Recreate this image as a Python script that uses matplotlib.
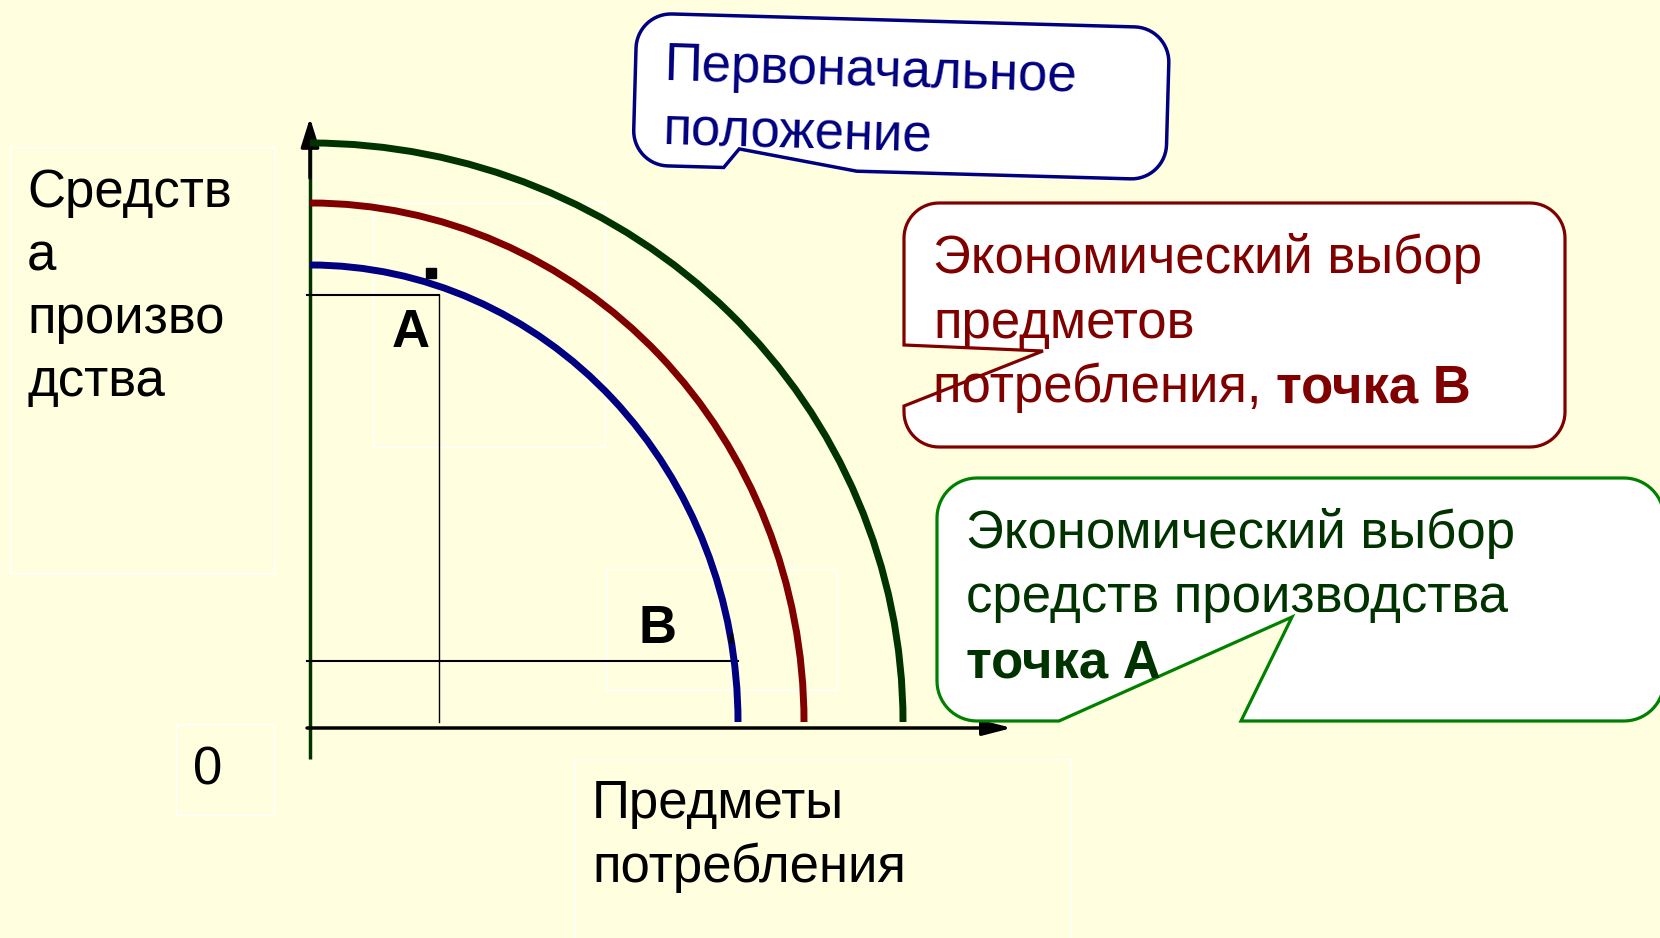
import numpy as np
import matplotlib
matplotlib.use("Agg")
import matplotlib.pyplot as plt
from matplotlib.patches import Arc, PathPatch, Rectangle
from matplotlib.path import Path
from matplotlib.transforms import Affine2D

# ---------------- data (diagram units) ----------------
curve_colors = ["#000080", "#800000", "#003300"]      # current, shifted, initial frontier
ppf_x_intercept = [42.8, 49.4, 59.3]
ppf_y_intercept = [45.7, 51.9, 57.9]
point_A = (12.9, 42.7)
point_B = (42.8, 6.1)
mark_A = (12.1, 44.9)
mark_B = (42.1, 8.4)

y_label_lines = ["Средств", "а", "произво", "дства"]
x_label_lines = ["Предметы", "потребления"]
origin_label = "0"
label_A = "А"
label_B = "В"
callout1_lines = ["Первоначальное", "положение"]
callout2_lines = ["Экономический выбор", "предметов", "потребления, "]
callout2_bold = "точка В"
callout3_lines = ["Экономический выбор", "средств производства"]
callout3_bold = "точка А"

# ---------------- figure ----------------
W, H = 1660, 938
BG = "#FFFFE0"
FONT = "Liberation Sans"
FS = 38

fig = plt.figure(figsize=(W / 100, H / 100), dpi=100, facecolor=BG)
ax = fig.add_axes([0, 0, 1, 1])
ax.set_facecolor(BG)
ax.set_xlim(-31.0, 135.0)
ax.set_ylim(-21.6, 72.2)
ax.axis("off")

# pixel (y down) -> data transform for layout elements
PX = Affine2D().scale(0.1, -0.1).translate(-31.0, 72.2) + ax.transData

# faint white text-box outlines
for (x0, y0, x1, y1) in [(10, 147, 275, 573), (373, 203, 605, 447), (606, 569, 837, 690),
                         (176, 724, 274, 815), (574, 759, 1070, 945)]:
    ax.add_patch(Rectangle((x0, y0), x1 - x0, y1 - y0, fill=False, ec="white",
                           lw=1.0, transform=PX, zorder=1))

# axes
ax.plot([0, 0], [-3.7, 57.9], color="#003300", lw=2.5, solid_capstyle="butt", zorder=2)
ax.annotate("", xy=(0, 60.4), xytext=(0, 54.4),
            arrowprops=dict(arrowstyle="-|>,head_length=1.75,head_width=0.55",
                            mutation_scale=10, color="black", lw=2.5,
                            shrinkA=0, shrinkB=0), zorder=2)
ax.annotate("", xy=(70.2, -0.6), xytext=(-0.3, -0.6),
            arrowprops=dict(arrowstyle="-|>,head_length=1.75,head_width=0.45",
                            mutation_scale=10, color="black", lw=2.5,
                            shrinkA=0, shrinkB=0), zorder=2)

# production possibility frontiers
for a, b, c in zip(ppf_x_intercept, ppf_y_intercept, curve_colors):
    ax.add_patch(Arc((0, 0), 2 * a, 2 * b, theta1=0, theta2=90, color=c, lw=5.0, zorder=3))

# guide lines for A and B
ax.plot([point_A[0], point_A[0]], [0, point_A[1]], color="black", lw=1.0, zorder=2)
ax.plot([-0.3, point_A[0]], [point_A[1], point_A[1]], color="black", lw=1.5, zorder=2)
ax.plot([-0.3, point_B[0]], [point_B[1], point_B[1]], color="black", lw=1.5, zorder=2)
ax.plot([mark_A[0]], [mark_A[1]], marker="s", ms=6.5, color="black", zorder=4)
ax.plot([mark_B[0]], [mark_B[1]], marker="|", ms=7, mew=2.5, color="black", zorder=4)


def callout_path(x0, y0, x1, y1, r, bottom_tail=None, left_tail=None, n=16):
    pts = []
    def arc(cx, cy, t0, t1):
        for t in np.linspace(np.radians(t0), np.radians(t1), n):
            pts.append((cx + r * np.cos(t), cy + r * np.sin(t)))
    arc(x0 + r, y0 + r, 180, 270)
    arc(x1 - r, y0 + r, 270, 360)
    arc(x1 - r, y1 - r, 0, 90)
    if bottom_tail:
        pts.extend(bottom_tail)
    arc(x0 + r, y1 - r, 90, 180)
    if left_tail:
        pts.extend(left_tail)
    pts.append(pts[0])
    return np.array(pts)


def add_callout(pts, ec, lw=2.3, extra=None):
    path = Path(pts, closed=True)
    tr = PX if extra is None else extra + PX
    ax.add_patch(PathPatch(path, fc="white", ec=ec, lw=lw, transform=tr,
                           joinstyle="miter", zorder=4))


# callout 1 (slightly rotated)
theta = 1.6
c1 = callout_path(0, 0, 533, 152, 35, bottom_tail=[(224, 152), (106, 133), (91, 152)])
add_callout(c1, "#000080", 2.5, extra=Affine2D().rotate_deg(theta).translate(637, 13))
# callout 2
c2 = callout_path(904, 203, 1565, 447, 35, left_tail=[(904, 406), (1043, 351), (904, 345)])
add_callout(c2, "#800000", 2.3)
# callout 3
c3 = callout_path(937, 478, 1664, 721, 40, bottom_tail=[(1241, 721), (1292, 617), (1059, 721)])
add_callout(c3, "#008000", 2.3)


def txt(x, y, s, color="black", weight="normal", ha="left", rot=0):
    return ax.text(x, y, s, transform=PX, fontsize=FS, family=FONT, color=color,
                   fontweight=weight, ha=ha, va="baseline", rotation=rot,
                   rotation_mode="anchor", zorder=6)


# axis labels
for line, yb in zip(y_label_lines, [207, 270, 333, 396]):
    txt(27, yb, line)
for line, yb in zip(x_label_lines, [818, 882]):
    txt(592, yb, line)
txt(208, 784, origin_label, ha="center")
txt(411, 347, label_A, weight="bold", ha="center")
txt(657, 643, label_B, weight="bold", ha="center")

# callout texts
txt(664, 80, callout1_lines[0], color="#000080", rot=-theta)
txt(662, 145, callout1_lines[1], color="#000080", rot=-theta)

t = None
for line, yb in zip(callout2_lines, [273, 338, 402]):
    t = txt(933, yb, line, color="#800000")
ax.annotate(callout2_bold, xy=(1, 0), xycoords=t, ha="left", va="bottom",
            fontsize=FS, family=FONT, fontweight="bold", color="#800000", zorder=6)

for line, yb in zip(callout3_lines, [548, 612]):
    txt(966, yb, line, color="#003300")
txt(966, 677, callout3_bold, color="#003300", weight="bold")

fig.savefig("out.png", dpi=100, facecolor=BG)
